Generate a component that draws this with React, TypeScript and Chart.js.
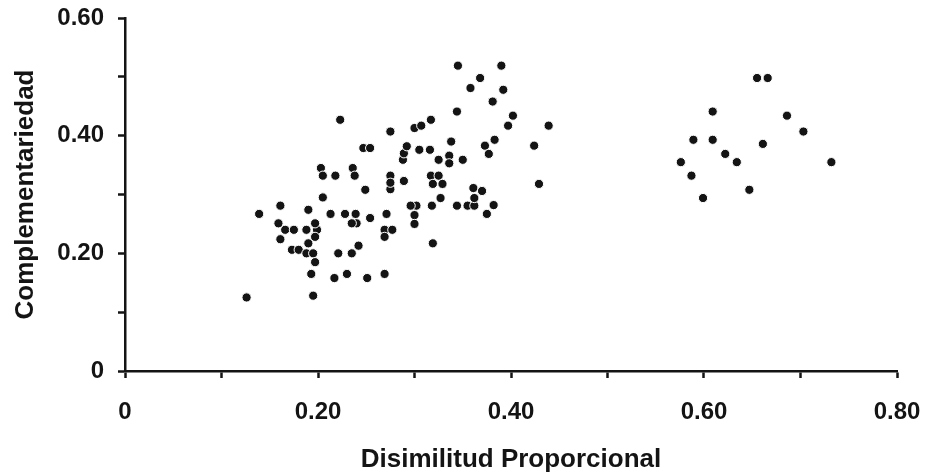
import React, { useEffect, useRef } from "react";
import { Chart, registerables } from "chart.js";

Chart.register(...registerables);

// Disimilitud proporcional (x) and complementariedad (y)
const mainX = [
  0.126, 0.139, 0.161, 0.159, 0.166, 0.175, 0.161, 0.173, 0.180, 0.190,
  0.188, 0.199, 0.197, 0.197, 0.190, 0.188, 0.195, 0.197, 0.193, 0.195,
  0.205, 0.203, 0.205, 0.218, 0.223, 0.213, 0.228, 0.239, 0.240, 0.235,
  0.221, 0.235, 0.242, 0.217, 0.230, 0.251, 0.269, 0.236, 0.238, 0.249,
  0.254, 0.247, 0.254, 0.275, 0.275, 0.275, 0.275, 0.271, 0.269, 0.269,
  0.277, 0.289, 0.288, 0.289, 0.292, 0.305, 0.316, 0.300, 0.307, 0.317,
  0.325, 0.336, 0.336, 0.338, 0.344, 0.345, 0.317, 0.325, 0.319, 0.329,
  0.327, 0.302, 0.296, 0.318, 0.300, 0.300, 0.319, 0.350, 0.344, 0.355,
  0.362, 0.361, 0.370, 0.362, 0.375, 0.382, 0.358, 0.368, 0.390, 0.392,
  0.381, 0.402, 0.397, 0.383, 0.373, 0.377, 0.424, 0.439, 0.429,
];
const mainY = [
  0.125, 0.267, 0.281, 0.251, 0.240, 0.240, 0.224, 0.206, 0.206, 0.274,
  0.240, 0.240, 0.251, 0.228, 0.217, 0.200, 0.200, 0.185, 0.165, 0.128,
  0.295, 0.345, 0.332, 0.332, 0.427, 0.267, 0.267, 0.267, 0.251, 0.251,
  0.200, 0.200, 0.213, 0.158, 0.165, 0.158, 0.165, 0.345, 0.332, 0.308,
  0.260, 0.379, 0.379, 0.407, 0.332, 0.309, 0.320, 0.267, 0.240, 0.228,
  0.240, 0.323, 0.359, 0.370, 0.382, 0.376, 0.376, 0.413, 0.417, 0.427,
  0.359, 0.366, 0.353, 0.390, 0.441, 0.519, 0.332, 0.332, 0.318, 0.318,
  0.294, 0.281, 0.281, 0.281, 0.265, 0.250, 0.217, 0.359, 0.281, 0.281,
  0.281, 0.311, 0.306, 0.294, 0.267, 0.282, 0.481, 0.498, 0.519, 0.478,
  0.458, 0.434, 0.417, 0.393, 0.383, 0.369, 0.383, 0.417, 0.318,
];
const rightX = [
  0.655, 0.666, 0.609, 0.686, 0.703, 0.589, 0.609, 0.661, 0.622, 0.576,
  0.634, 0.732, 0.587, 0.647, 0.599,
];
const rightY = [
  0.498, 0.498, 0.441, 0.434, 0.407, 0.393, 0.393, 0.386, 0.369, 0.355,
  0.355, 0.355, 0.332, 0.308, 0.294,
];

const xTitle = "Disimilitud Proporcional";
const yTitle = "Complementariedad";

const fmt = (v: number) => {
  const t = Math.round(v * 10);
  if (t === 0) return "0";
  return t % 2 === 0 ? v.toFixed(2) : "";
};

export default function App() {
  const ref = useRef<HTMLCanvasElement | null>(null);
  useEffect(() => {
    if (!ref.current) return;
    const pts = [
      ...mainX.map((x, i) => ({ x, y: mainY[i] })),
      ...rightX.map((x, i) => ({ x, y: rightY[i] })),
    ];
    const ink = "#141414";
    const family = "'Liberation Sans', Arial, sans-serif";
    const tickFont = { family, size: 24, weight: "bold" as const };
    const titleFont = { family, size: 26, weight: "bold" as const };
    const chart = new Chart(ref.current, {
      type: "scatter",
      data: {
        datasets: [
          {
            data: pts,
            pointRadius: 4.6,
            pointHoverRadius: 4.6,
            backgroundColor: ink,
            borderColor: "#ffffff",
            borderWidth: 1,
          },
        ],
      },
      options: {
        responsive: false,
        animation: false,
        events: [],
        layout: { padding: { top: 18, right: 31, left: 0, bottom: 0 } },
        plugins: { legend: { display: false }, tooltip: { enabled: false } },
        scales: {
          x: {
            type: "linear",
            min: 0,
            max: 0.8,
            afterFit: (s: any) => {
              s.height = 104;
              s.paddingLeft = 0;
              s.paddingRight = 0;
            },
            border: { display: true, color: ink, width: 2.5 },
            grid: { drawOnChartArea: false, drawTicks: true, tickLength: 7, tickWidth: 2.5, tickColor: ink },
            ticks: {
              stepSize: 0.1,
              color: ink,
              font: tickFont,
              padding: 20,
              maxRotation: 0,
              autoSkip: false,
              callback: (v: any) => fmt(Number(v)),
            },
            title: { display: true, text: xTitle, color: ink, font: titleFont, padding: { top: 0, bottom: 0 } },
          },
          y: {
            type: "linear",
            min: 0,
            max: 0.6,
            afterFit: (s: any) => {
              s.width = 125;
              s.paddingTop = 0;
              s.paddingBottom = 0;
            },
            border: { display: true, color: ink, width: 2.5 },
            grid: { drawOnChartArea: false, drawTicks: true, tickLength: 7, tickWidth: 2.5, tickColor: ink },
            ticks: {
              stepSize: 0.1,
              color: ink,
              font: tickFont,
              padding: 14,
              autoSkip: false,
              callback: (v: any) => fmt(Number(v)),
            },
            title: { display: true, text: yTitle, color: ink, font: titleFont, padding: { top: 10, bottom: 0 } },
          },
        },
      },
    });
    return () => chart.destroy();
  }, []);
  return (
    <div style={{ position: "fixed", left: 0, top: 0, width: 928, height: 475, background: "#fff" }}>
      <canvas ref={ref} width={928} height={475} style={{ width: 928, height: 475, display: "block" }} />
    </div>
  );
}
